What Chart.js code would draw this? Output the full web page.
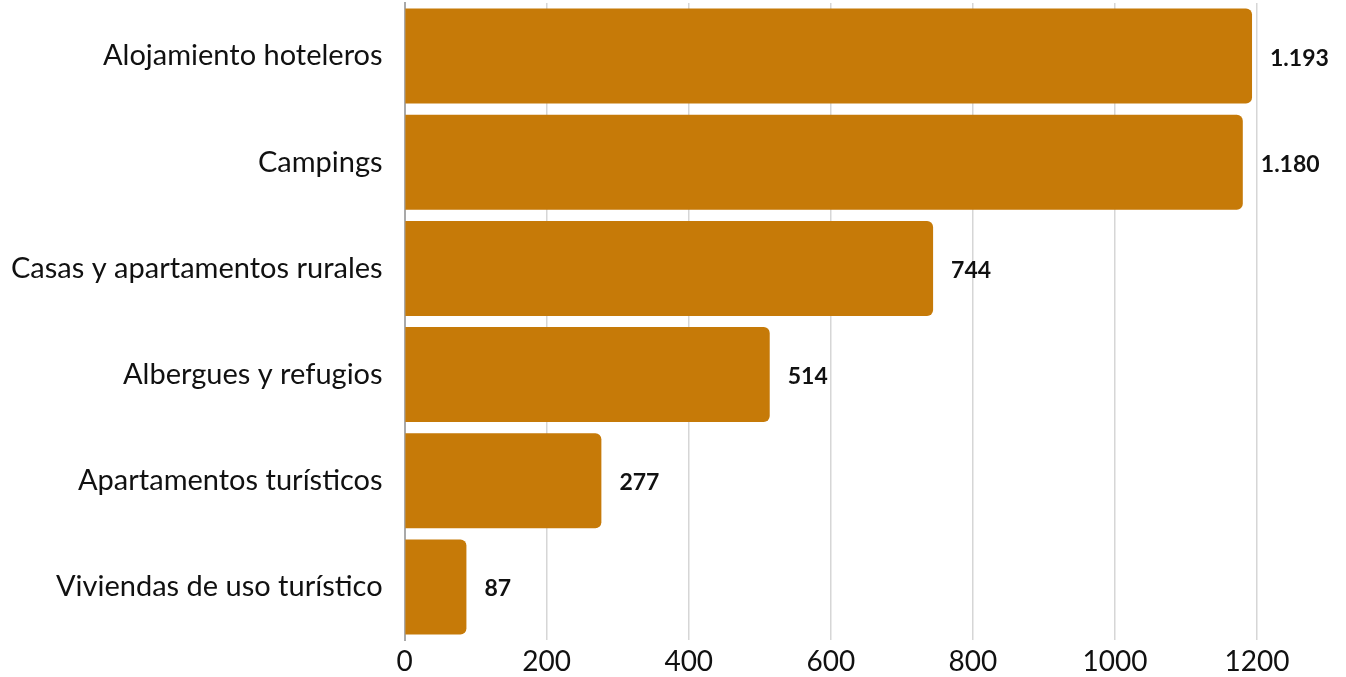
<!DOCTYPE html>
<html>
<head>
<meta charset="utf-8">
<script src="https://cdn.jsdelivr.net/npm/chart.js@4.4.1/dist/chart.umd.min.js"></script>
<style>
  html, body { margin: 0; padding: 0; background: #fff; }
  #wrap { width: 1346px; height: 677px; position: relative; }
</style>
</head>
<body>
<div id="wrap"><canvas id="alojChart"></canvas></div>
<script>
const categorias = [
  'Alojamiento hoteleros',
  'Campings',
  'Casas y apartamentos rurales',
  'Albergues y refugios',
  'Apartamentos turísticos',
  'Viviendas de uso turístico'
];
const valores = [1193, 1180, 744, 514, 277, 87];
const ticksX = [0, 200, 400, 600, 800, 1000, 1200];

// 1193 -> "1.193"
function formato(v) {
  return String(v).replace(/\B(?=(\d{3})+(?!\d))/g, '.');
}

const etiquetas = {
  id: 'etiquetas',
  afterDatasetsDraw(chart) {
    const ctx = chart.ctx;
    const meta = chart.getDatasetMeta(0);
    ctx.save();
    ctx.font = 'bold 23px Lato';
    ctx.fillStyle = '#111';
    ctx.textAlign = 'left';
    ctx.textBaseline = 'middle';
    meta.data.forEach((bar, i) => {
      ctx.fillText(formato(valores[i]), bar.x + 18, bar.y + 2);
    });
    ctx.restore();
  }
};

const ctx = document.getElementById('alojChart').getContext('2d');
const alojChart = new Chart(ctx, {
  type: 'bar',
  data: {
    labels: categorias,
    datasets: [{
      data: valores,
      backgroundColor: '#C67A08',
      borderRadius: 6,
      borderSkipped: 'start',
      barPercentage: 0.895,
      categoryPercentage: 1
    }]
  },
  options: {
    indexAxis: 'y',
    responsive: true,
    maintainAspectRatio: false,
    animation: false,
    layout: { padding: { top: 3, right: 89, left: 8, bottom: 0 } },
    plugins: {
      legend: { display: false },
      tooltip: { enabled: false }
    },
    scales: {
      x: {
        min: 0,
        max: 1200,
        afterBuildTicks: (scale) => { scale.ticks = ticksX.map(v => ({ value: v })); },
        grid: { color: '#d6d6d6', lineWidth: 1.5, drawTicks: false },
        border: { display: false },
        ticks: {
          color: '#111',
          font: { family: 'Lato', size: 28, lineHeight: 1 },
          padding: 8,
          callback: (v) => String(v)
        },
        afterFit: (scale) => { scale.height -= 7; }
      },
      y: {
        grid: { display: false, drawTicks: false },
        border: { display: true, color: '#a9a9a9', width: 2 },
        ticks: {
          color: '#111',
          font: { family: 'Lato', size: 29 },
          padding: 22
        },
        afterFit: (scale) => {
          scale.paddingTop = 0;
          scale.paddingBottom = 0;
          scale.width -= 19;
        }
      }
    }
  },
  plugins: [etiquetas]
});
</script>
</body>
</html>
